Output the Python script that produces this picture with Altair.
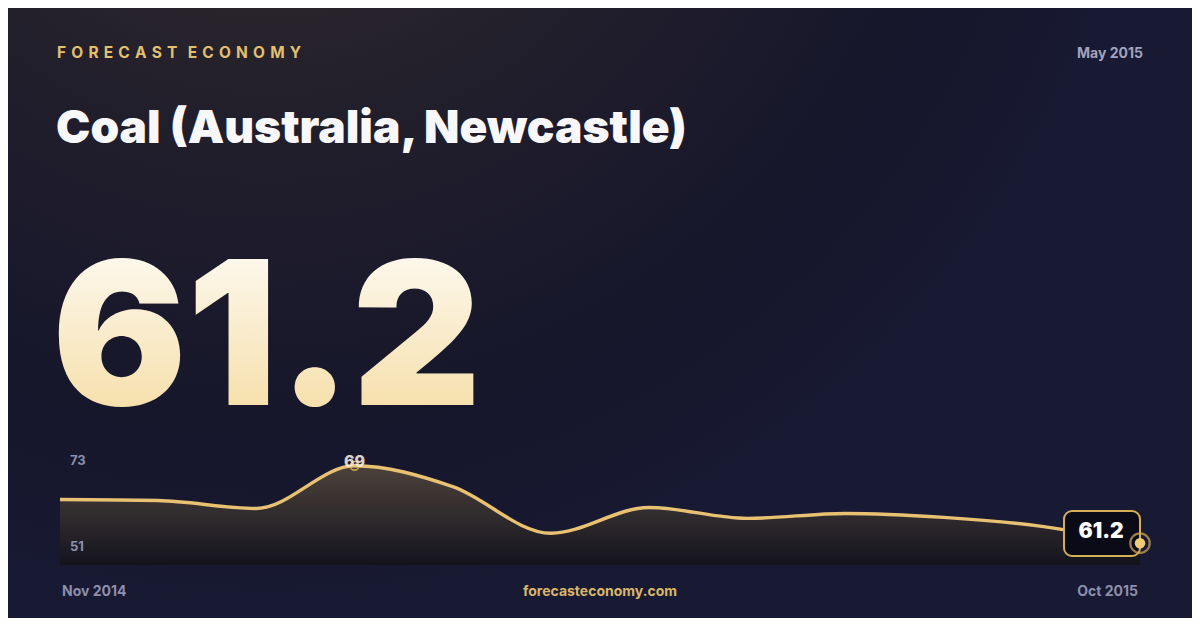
import altair as alt
import pandas as pd

# ---- data ----
months = ["Nov 2014", "Dec 2014", "Jan 2015", "Feb 2015", "Mar 2015", "Apr 2015",
          "May 2015", "Jun 2015", "Jul 2015", "Aug 2015", "Sep 2015", "Oct 2015"]
values = [65.6, 65.5, 64.7, 69.0, 66.9, 62.2, 64.8, 63.7, 64.2, 63.8, 62.9, 61.2]

brand = "FORECAST ECONOMY"
title = "Coal (Australia, Newcastle)"
date_label = "May 2015"
site = "forecasteconomy.com"
axis_top = "73"
axis_bottom = "51"

W, H = 1184, 610
GOLD = "#e8c272"
GRAY = "#8d8fae"
FONT = "Inter"

df = pd.DataFrame({"i": list(range(len(values))), "month": months, "v": values})
imax = values.index(max(values))
peak = df.iloc[[imax]].assign(lab=[f"{max(values):.0f}"])
last = df.iloc[[len(values) - 1]].assign(lab=[f"{values[-1]:.1f}"])
one = pd.DataFrame({"a": [0]})

xs = alt.Scale(domain=[0, len(values) - 1], range=[52, 1132])
ys = alt.Scale(domain=[59, 71.2], range=[557, 436])
X = alt.X("i:Q", scale=xs, axis=None)
Y = alt.Y("v:Q", scale=ys, axis=None)

bg = alt.Chart(one).mark_rect(
    fill=alt.RadialGradient(
        gradient="radial", x1=0.22, y1=0.0, r1=0.0, x2=0.22, y2=0.0, r2=0.75,
        stops=[alt.GradientStop(color="#3b3129", offset=0),
               alt.GradientStop(color="#221f2c", offset=0.45),
               alt.GradientStop(color="#16162b", offset=0.8),
               alt.GradientStop(color="#181932", offset=1)]),
).encode(x=alt.value(0), x2=alt.value(W), y=alt.value(0), y2=alt.value(H))

area = alt.Chart(df).mark_area(
    interpolate="monotone",
    fill=alt.LinearGradient(
        gradient="linear", x1=0, y1=0, x2=0, y2=1,
        stops=[alt.GradientStop(color="#4b4139", offset=0),
               alt.GradientStop(color="#302b2d", offset=0.5),
               alt.GradientStop(color="#14131d", offset=1)]),
).encode(x=X, y=Y, y2=alt.datum(59))

line = alt.Chart(df).mark_line(interpolate="monotone", color=GOLD, strokeWidth=3.4).encode(x=X, y=Y)

peak_ring = alt.Chart(peak).mark_point(filled=False, size=75, color="#d9ad4f", strokeWidth=1.6, opacity=0.9).encode(x=X, y=Y)
peak_lab = alt.Chart(peak).mark_text(font=FONT, fontSize=16, fontWeight=800, color="#f1ece0", opacity=0.88, dy=-4).encode(x=X, y=Y, text="lab:N")

box = alt.Chart(one).mark_rect(cornerRadius=8, fill="#0b0b17", stroke="#d6ae55", strokeWidth=2).encode(
    x=alt.value(1056), x2=alt.value(1132), y=alt.value(503), y2=alt.value(548))
box_txt = alt.Chart(last).mark_text(font=FONT, fontSize=21, fontWeight=900, color="#ffffff", align="center", baseline="middle").encode(
    x=alt.value(1093), y=alt.value(524), text="lab:N")
end_ring = alt.Chart(last).mark_point(filled=False, size=380, color="#d6ae55", strokeWidth=2.2).encode(x=X, y=Y)
end_dot = alt.Chart(last).mark_point(filled=True, size=110, color="#f2cd78", opacity=1).encode(x=X, y=Y)

def txt(text, x, y, size, weight, color, align="left", baseline="middle", **kw):
    return alt.Chart(one).mark_text(text=text, font=FONT, fontSize=size, fontWeight=weight, color=color,
                                    align=align, baseline=baseline, **kw).encode(x=alt.value(x), y=alt.value(y))

spaced = "\u2004".join(brand).replace("\u2004 \u2004", "\u2004\u2004")
brand_t = txt(spaced, 49, 45, 15.5, 700, "#e2c070")
date_t = txt(date_label, 1135, 46, 14, 700, "#a3a3bd", align="right")
title_t = txt(title, 48, 135, 46, 900, "#f8f8fb", baseline="alphabetic")
big_t = alt.Chart(last).mark_text(
    font=FONT, fontSize=200, fontWeight=900, align="left", baseline="alphabetic",
    fill=alt.LinearGradient(gradient="linear", x1=0, y1=0, x2=0, y2=1,
                            stops=[alt.GradientStop(color="#ffffff", offset=0),
                                   alt.GradientStop(color="#f4d999", offset=1)]),
).encode(x=alt.value(44), y=alt.value(397), text="lab:N")
top_t = txt(axis_top, 62, 453, 13, 700, GRAY)
bot_t = txt(axis_bottom, 62, 539, 13, 700, GRAY)
start_t = txt(months[0], 54, 584, 14, 700, GRAY)
site_t = txt(site, 592, 584, 14, 700, "#d8b76a", align="center")
end_t = txt(months[-1], 1130, 584, 14, 700, GRAY, align="right")

chart = alt.layer(
    bg, area, line, peak_ring, peak_lab, box, box_txt, end_ring, end_dot,
    brand_t, date_t, title_t, big_t, top_t, bot_t, start_t, site_t, end_t,
).properties(width=W, height=H, padding=0, autosize=alt.AutoSizeParams(type="none"),
             background="#16162b").configure_view(stroke=None)

chart.save("out.html", embed_options={"renderer": "svg", "actions": False})
